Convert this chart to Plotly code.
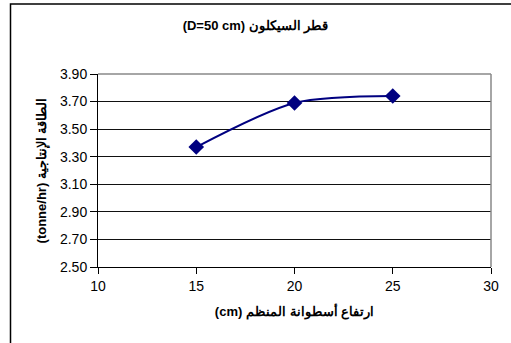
import plotly.graph_objects as go

# Regulator cylinder height (cm) vs. production capacity (tonne/hr)
heights_cm = [15, 20, 25]
capacity_t_hr = [3.37, 3.69, 3.74]

y_ticks = [2.50, 2.70, 2.90, 3.10, 3.30, 3.50, 3.70, 3.90]
x_ticks = [10, 15, 20, 25, 30]

title_text = "(D=50 cm) قطر السيكلون"
x_title = "(cm) ارتفاع أسطوانة المنظم"
y_title = "(tonne/hr) الطاقة الإنتاجية"

W, H = 511, 343
L, R, T, B = 98, 20, 74, 76

fig = go.Figure()
fig.add_trace(go.Scatter(
    x=heights_cm, y=capacity_t_hr,
    mode="lines+markers",
    line=dict(color="#000080", width=2, shape="spline", smoothing=0.8),
    marker=dict(symbol="diamond", size=12, color="#000080"),
    showlegend=False,
    cliponaxis=False,
))

pw, ph = W - L - R, H - T - B
def px_x(px):
    return (px - L) / pw
def px_y(py):
    return (H - B - py) / ph

fig.update_layout(
    width=W, height=H,
    margin=dict(l=L, r=R, t=T, b=B),
    paper_bgcolor="white", plot_bgcolor="white",
    font=dict(family="Liberation Sans, Arial, sans-serif", size=14, color="black"),
    title=dict(text="<b>" + title_text + "</b>", x=0.5, xanchor="center",
               y=1 - 25 / H, yanchor="middle", font=dict(size=13)),
    xaxis=dict(range=[10, 30], tickvals=x_ticks, ticks="outside", ticklen=6,
               tickcolor="black", showline=True, linecolor="black", linewidth=1,
               showgrid=False, zeroline=False, fixedrange=True,
               tickfont=dict(size=14),
               title=dict(text="<b>" + x_title + "</b>", standoff=14,
                          font=dict(size=13))),
    yaxis=dict(range=[2.5, 3.9], tickvals=y_ticks, tickformat=".2f",
               ticks="outside", ticklen=7, tickcolor="black",
               showline=True, linecolor="black", linewidth=1,
               showgrid=True, gridcolor="#111111", gridwidth=1,
               zeroline=False, fixedrange=True,
               tickfont=dict(size=14),
               title=dict(text="<b>" + y_title + "</b>", standoff=10,
                          font=dict(size=13))),
    shapes=[
        # grey plot-area frame (top and right edges)
        dict(type="line", xref="paper", yref="paper", x0=0, x1=1, y0=1, y1=1,
             line=dict(color="#888888", width=1.5)),
        dict(type="line", xref="paper", yref="paper", x0=1, x1=1, y0=0, y1=1,
             line=dict(color="#888888", width=1.5)),
        # outer chart border
        dict(type="rect", xref="paper", yref="paper",
             x0=px_x(10.5), x1=px_x(W + 20), y0=px_y(H + 20), y1=px_y(4),
             line=dict(color="black", width=1.5), layer="below"),
    ],
)

fig.write_html("out.html")
